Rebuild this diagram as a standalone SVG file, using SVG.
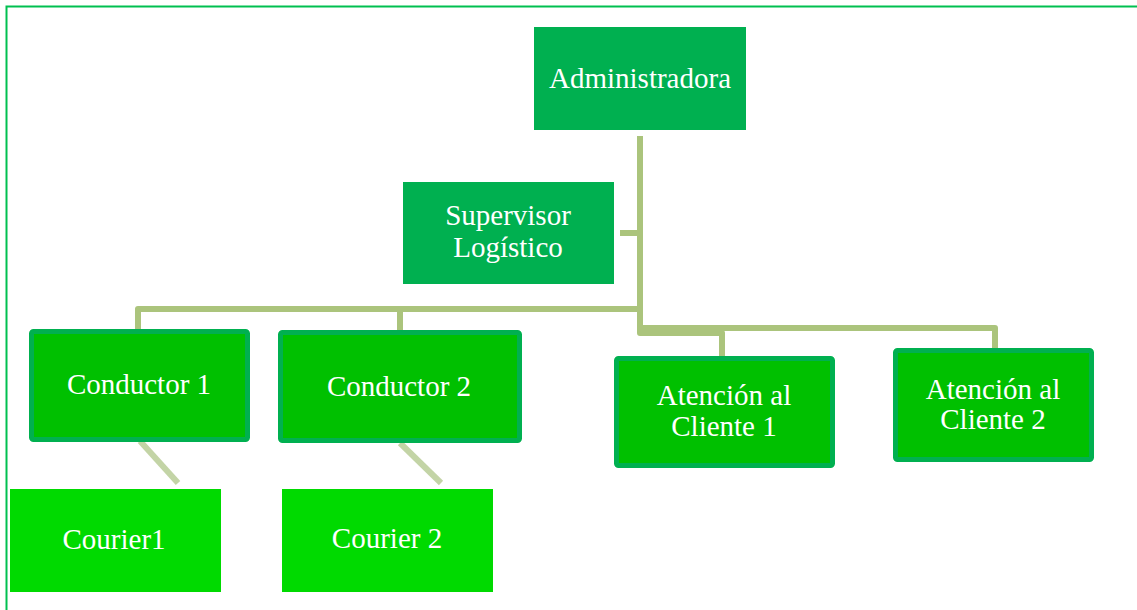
<svg xmlns="http://www.w3.org/2000/svg" width="1137" height="610" viewBox="0 0 1137 610">
<style>
.t{font-family:"Liberation Serif","Times New Roman",serif;font-size:29px;fill:#ffffff;text-anchor:middle}
.top{fill:#00B050}
.mid{fill:#00C000;stroke:#00B050;stroke-width:5}
.low{fill:#00DA00}
.c{fill:none;stroke:#ABC47C;stroke-width:6;stroke-linejoin:round}
.d{fill:none;stroke:#C3D4A6;stroke-width:6}
</style>
<rect width="1137" height="610" fill="#ffffff"/>
<path d="M6.5,610 V6.5 H1137" fill="none" stroke="#00C050" stroke-width="2"/>
<g id="connectors">
<path class="c" d="M640,136 V333 H722 V356"/>
<path class="c" d="M620,233 H640"/>
<path class="c" d="M640,309 H138 V329"/>
<path class="c" d="M400,309 V330"/>
<path class="c" d="M640,328 H995 V348"/>
<path class="d" d="M140,441 L178,483"/>
<path class="d" d="M400,443 L441,483"/>
</g>
<g id="admin">
<rect class="top" x="534" y="27" width="212" height="103"/>
<text class="t" x="640" y="88">Administradora</text>
</g>
<g id="supervisor">
<rect class="top" x="403" y="182" width="211" height="102"/>
<text class="t" x="508" y="225">Supervisor</text>
<text class="t" x="508" y="257">Logístico</text>
</g>
<g id="conductor1">
<rect class="mid" x="31.5" y="331.5" width="216" height="108" rx="2"/>
<text class="t" x="139" y="394">Conductor 1</text>
</g>
<g id="conductor2">
<rect class="mid" x="280.5" y="332.5" width="239" height="108" rx="2"/>
<text class="t" x="399" y="396">Conductor 2</text>
</g>
<g id="cliente1">
<rect class="mid" x="616.5" y="358.5" width="216" height="107" rx="2"/>
<text class="t" x="724" y="405">Atención al</text>
<text class="t" x="724" y="436">Cliente 1</text>
</g>
<g id="cliente2">
<rect class="mid" x="895.5" y="350.5" width="196" height="109" rx="2"/>
<text class="t" x="993" y="399">Atención al</text>
<text class="t" x="993" y="429">Cliente 2</text>
</g>
<g id="courier1">
<rect class="low" x="10" y="489" width="211" height="103"/>
<text class="t" x="114" y="549">Courier1</text>
</g>
<g id="courier2">
<rect class="low" x="282" y="489" width="211" height="103"/>
<text class="t" x="387" y="548">Courier 2</text>
</g>
</svg>
